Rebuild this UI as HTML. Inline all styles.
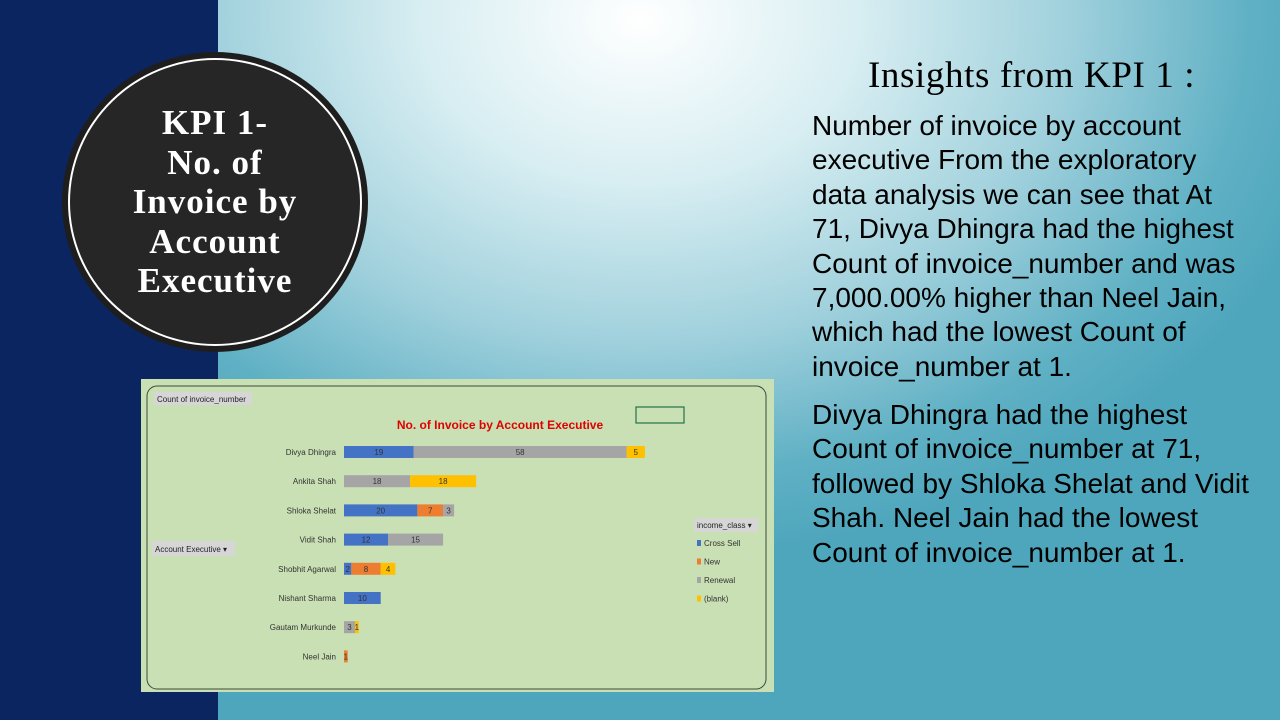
<!DOCTYPE html>
<html><head><meta charset="utf-8"><style>
body{margin:0;width:1280px;height:720px;overflow:hidden;position:relative;font-family:"Liberation Sans",sans-serif;
background:radial-gradient(ellipse 720px 540px at 640px 20px,#ffffff 0%,#d8eef2 30%,#9fd0dc 60%,#5fb0c4 85%,#4ea6bc 100%);}
#band{position:absolute;left:0;top:0;width:218px;height:720px;background:#0b2561;}
#circ-outer{position:absolute;left:62px;top:52px;width:306px;height:300px;border-radius:50%;background:#1e1e1e;}
#circ{position:absolute;left:68px;top:58px;width:294px;height:288px;border-radius:50%;background:#262626;border:2px solid #fff;box-sizing:border-box;}
#kpi{position:absolute;left:78px;top:103px;width:274px;text-align:center;color:#fff;font-family:"Liberation Serif",serif;font-weight:bold;font-size:35px;letter-spacing:1px;line-height:39.5px;}
#ins-title{position:absolute;left:868px;top:54px;font-family:"Liberation Serif",serif;font-size:37px;letter-spacing:0.6px;color:#000;white-space:nowrap;}
.p{position:absolute;left:812px;font-size:28px;line-height:34.4px;color:#000;white-space:nowrap;}
#chartsvg{position:absolute;left:0;top:0}
</style></head><body>
<div id="band"></div>
<div id="circ-outer"></div>
<div id="circ"></div>
<div id="kpi">KPI 1-<br>No. of<br>Invoice by<br>Account<br>Executive</div>
<div id="ins-title">Insights from KPI 1 :</div>
<div class="p" style="top:109px">Number of invoice by account<br>executive From the exploratory<br>data analysis we can see that At<br>71, Divya Dhingra had the highest<br>Count of invoice_number and was<br>7,000.00% higher than Neel Jain,<br>which had the lowest Count of<br>invoice_number at 1.</div>
<div class="p" style="top:398px">Divya Dhingra had the highest<br>Count of invoice_number at 71,<br>followed by Shloka Shelat and Vidit<br>Shah. Neel Jain had the lowest<br>Count of invoice_number at 1.</div>
<svg id="chartsvg" width="1280" height="720"></svg>
<script>
const categories=["Divya Dhingra","Ankita Shah","Shloka Shelat","Vidit Shah","Shobhit Agarwal","Nishant Sharma","Gautam Murkunde","Neel Jain"];
const crossSell=[19,0,20,12,2,10,0,0];
const newVals=[0,0,7,0,8,0,0,1];
const renewal=[58,18,3,15,0,0,3,0];
const blank=[5,18,0,0,4,0,1,0];
const seriesNames=["Cross Sell","New","Renewal","(blank)"];
const colors=["#4472c4","#ed7d31","#a5a5a5","#ffc000"];
const NS="http://www.w3.org/2000/svg";
const svg=document.getElementById('chartsvg');
function el(t,a,txt){const e=document.createElementNS(NS,t);for(const k in a)e.setAttribute(k,a[k]);if(txt!==undefined)e.textContent=txt;svg.appendChild(e);return e;}
const x0=344,pxPer=3.67;
const xs=v=>x0+v*pxPer;
const ys=i=>452+i*29.2;
let r=el('rect',{x:141,y:379,width:633,height:313,fill:'#c9e0b4'});

r=el('rect',{x:147,y:386,width:619,height:303,rx:10,fill:'none',stroke:'#3a4a3a','stroke-width':1});

r=el('rect',{x:154,y:392,width:98,height:13,fill:'#d6d6d6'});

el('text',{x:157,y:402,'font-size':8,fill:'#222'},'Count  of invoice_number');
let t=el('text',{x:500,y:429,'font-size':12,'font-weight':'bold',fill:'#e00000','text-anchor':'middle'},'No. of Invoice by Account Executive');

r=el('rect',{x:636,y:407,width:48,height:16,fill:'none',stroke:'#217346','stroke-width':1.2});

r=el('rect',{x:152,y:541,width:83,height:15,fill:'#d6d6d6'});

el('text',{x:155,y:552,'font-size':8,fill:'#222'},'Account  Executive    \u25BE');
r=el('rect',{x:694,y:518,width:64,height:14,fill:'#d6d6d6'});

el('text',{x:697,y:528,'font-size':8,fill:'#222'},'income_class    \u25BE');
const series=[crossSell,newVals,renewal,blank];
seriesNames.forEach((n,k)=>{
 const y=546+k*18.5;
 let s=el('rect',{x:697,y:y-6,width:4,height:6,fill:colors[k]});
 
 let l=el('text',{x:704,y:y,'font-size':8,fill:'#333'},n);
 
});
categories.forEach((c,i)=>{
 const y=ys(i);
 let lb=el('text',{x:336,y:y+3,'font-size':8,fill:'#333','text-anchor':'end'},c);
 
 let acc=0;
 series.forEach((s,k)=>{
  const v=s[i];if(!v)return;
  const b=el('rect',{x:xs(acc),y:y-6,width:v*pxPer,height:12,fill:colors[k]});
  
  
  const lt=el('text',{x:xs(acc+v/2),y:y+3,'font-size':8,fill:'#333','text-anchor':'middle'},String(v));
  
  
  acc+=v;
 });
});
</script>
</body></html>
